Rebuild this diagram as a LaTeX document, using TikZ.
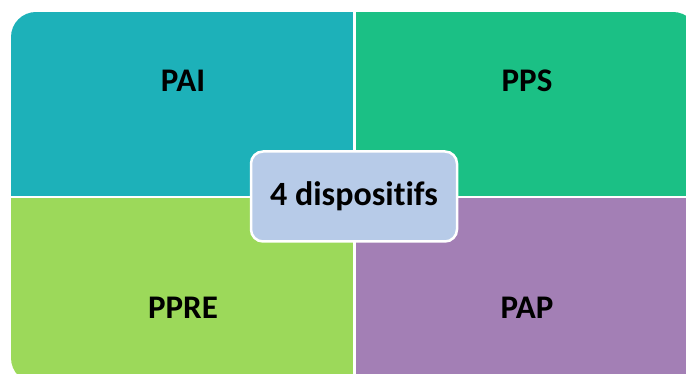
\documentclass[tikz,border=0pt]{standalone}
\usepackage{fontspec}
\setmainfont{Carlito}[Ligatures=NoCommon]
\usetikzlibrary{positioning}

\definecolor{paicol}{HTML}{1DB1B9}
\definecolor{ppscol}{HTML}{1BC085}
\definecolor{pprecol}{HTML}{9CD95A}
\definecolor{papcol}{HTML}{A37FB5}
\definecolor{centercol}{HTML}{B7CBE8}

\begin{document}
\begin{tikzpicture}[x=1pt,y=-1pt,
	quadlabel/.style={font=\fontsize{33}{40}\selectfont\bfseries, text=black},
	centerbox/.style={rounded corners=12pt, fill=centercol, draw=white, line width=2.5pt,
		minimum width=206pt, minimum height=90pt, font=\fontsize{34}{40}\selectfont\bfseries}]
		
		\useasboundingbox (0,0) rectangle (686,374);
		
		\begin{scope}
			\clip[rounded corners=25pt] (11,12) rectangle (698,383);
			\fill[paicol] (11,12) rectangle (353,196);
			\fill[ppscol] (356,12) rectangle (698,196);
			\fill[pprecol] (11,198.5) rectangle (353,383);
			\fill[papcol] (356,198.5) rectangle (698,383);
		\end{scope}
		
		\node[quadlabel] (pai) at (183,81) {PAI};
		\node[quadlabel] (pps) at (527,81) {PPS};
		\node[quadlabel] (ppre) at (183,308) {PPRE};
		\node[quadlabel] (pap) at (527,308) {PAP};
		
		\node[centerbox] (dispo) at (354,196.5) {4 dispositifs};
		
	\end{tikzpicture}
\end{document}
